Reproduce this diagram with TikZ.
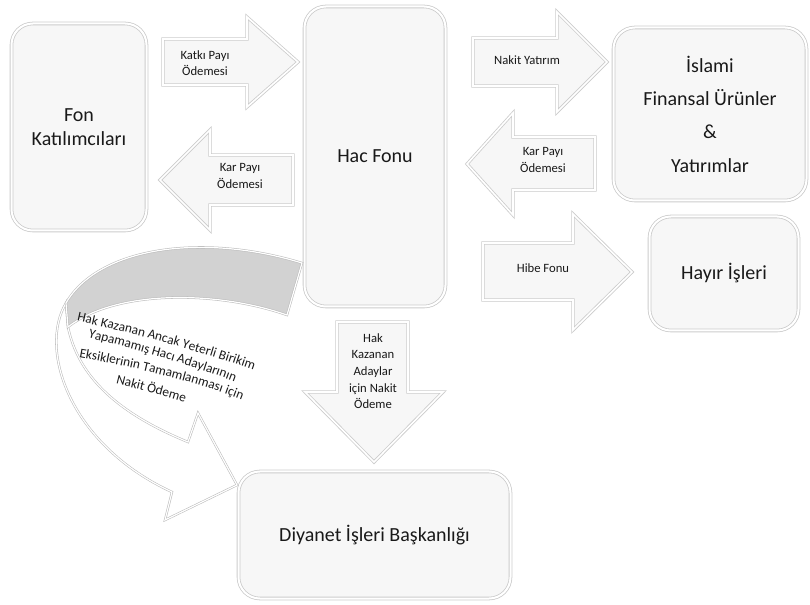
\documentclass[tikz,border=0pt]{standalone}
\usepackage{fontspec}
\setmainfont{Carlito}
\usetikzlibrary{shadows,decorations.text}
\begin{document}
\begin{tikzpicture}[x=0.75pt,y=-0.75pt,
  boxstyle/.style={draw=gray!40, line width=0.6pt, double=white, double distance=1.5pt,
    fill=gray!6, rounded corners=16pt, inner sep=0pt, align=center,
    font=\fontsize{15}{18}\selectfont, text=black!90,
    drop shadow={shadow xshift=0.8pt, shadow yshift=-0.8pt, fill=gray!60, opacity=0.35}},
  arrowstyle/.style={draw=gray!40, line width=0.6pt, double=white, double distance=1.2pt,
    fill=gray!6, line join=miter,
    drop shadow={shadow xshift=0.8pt, shadow yshift=-0.8pt, fill=gray!60, opacity=0.35}},
  smalltext/.style={align=center, font=\fontsize{9.5}{12.5}\selectfont, text=black!90, inner sep=0pt},
  curvestyle/.style={draw=gray!55, line width=0.4pt, double=white, double distance=0.9pt},
  curvetext/.style={decorate, decoration={text along path, text={#1}, text align=center, text color=black!90}},
]
\useasboundingbox (0,0) rectangle (810,605);

% boxes
\node[boxstyle, minimum width=101.25pt, minimum height=155.25pt] (fon) at (79,127) {Fon\\Katılımcıları};
\node[boxstyle, minimum width=105.75pt, minimum height=225pt] (hac) at (375,156.5) {Hac Fonu};
\node[boxstyle, minimum width=144.75pt, minimum height=129.75pt, font=\fontsize{15}{25}\selectfont] (isl) at (710,114) {İslami\\Finansal Ürünler\\\&\\Yatırımlar};
\node[boxstyle, minimum width=111.75pt, minimum height=85.5pt] (hayir) at (724,273.5) {Hayır İşleri};
\node[boxstyle, minimum width=204pt, minimum height=95.25pt] (diy) at (374.5,535) {Diyanet İşleri Başkanlığı};

% block arrows
\draw[arrowstyle] (163,39) -- (247,39) -- (247,17) -- (298,62) -- (247,107) -- (247,85) -- (163,85) -- cycle;
\node[smalltext] (katki) at (205,63) {Katkı Payı\\Ödemesi};

\draw[arrowstyle] (293,155) -- (210,155) -- (210,130) -- (160,180) -- (210,230) -- (210,205) -- (293,205) -- cycle;
\node[smalltext] (karfon) at (240,176) {Kar Payı\\Ödemesi};

\draw[arrowstyle] (473,38) -- (557,38) -- (557,12) -- (607,62) -- (557,112) -- (557,86) -- (473,86) -- cycle;
\node[smalltext] (nakit) at (527,60) {Nakit Yatırım};

\draw[arrowstyle] (595,137) -- (513,137) -- (513,113) -- (467,164) -- (513,215) -- (513,190) -- (595,190) -- cycle;
\node[smalltext] (karhac) at (543,160) {Kar Payı\\Ödemesi};

\draw[arrowstyle] (483,243) -- (573,243) -- (573,214) -- (632,272) -- (573,330) -- (573,300) -- (483,300) -- cycle;
\node[smalltext] (hibe) at (543,268) {Hibe Fonu};

\draw[arrowstyle] (337,322) -- (408,322) -- (408,392) -- (443,392) -- (374,462) -- (305,392) -- (337,392) -- cycle;
\node[smalltext] (hakkaz) at (373,371) {Hak\\Kazanan\\Adaylar\\için Nakit\\Ödeme};

% curved arrow
\draw[curvestyle, fill=white] (66,303) .. controls (38,350) and (70,445) .. (172,492)
  -- (165,520) -- (237,485) -- (198,413) -- (188,442)
  .. controls (115,412) and (78,375) .. (68,327) -- cycle;
\draw[curvestyle, fill=gray!35] (302,263) .. controls (200,232) and (98,248) .. (66,303)
  -- (68,327) .. controls (115,290) and (215,290) .. (287,315) -- cycle;

% warped label of the curved arrow
\begin{scope}
\fontsize{10}{12}\selectfont
\path[curvetext={Hak Kazanan Ancak Yeterli Birikim}] (64,318) .. controls (120,330) and (200,350) .. (266,375);
\path[curvetext={Yapamamış Hacı Adaylarının}] (74,334) .. controls (120,345) and (195,365) .. (248,387);
\path[curvetext={Eksiklerinin Tamamlanması için}] (66,355) .. controls (114,363) and (194,379) .. (254,405);
\path[curvetext={Nakit Ödeme}] (100,380) .. controls (125,386) and (170,397) .. (200,408);
\end{scope}
\end{tikzpicture}
\end{document}
